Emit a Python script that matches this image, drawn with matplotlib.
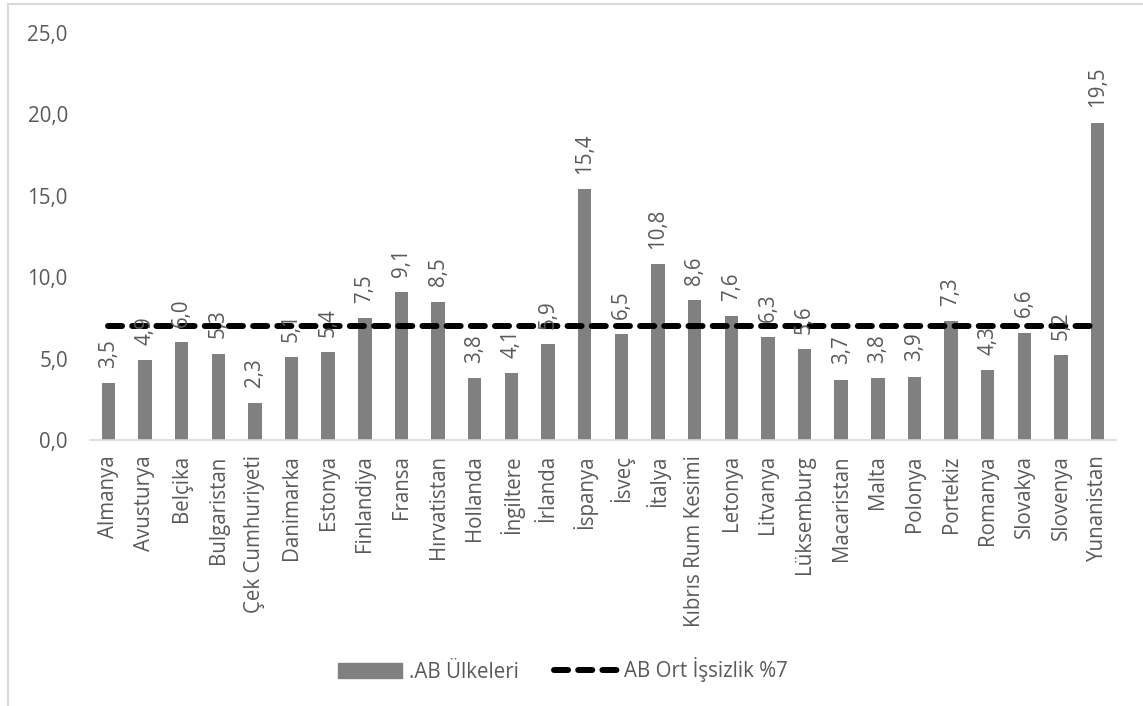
import numpy as np
import matplotlib.pyplot as plt
from matplotlib.lines import Line2D

plt.rcParams['font.family'] = ['Open Sans', 'DejaVu Sans']

ulkeler = ['Almanya', 'Avusturya', 'Belçika', 'Bulgaristan', 'Çek Cumhuriyeti',
           'Danimarka', 'Estonya', 'Finlandiya', 'Fransa', 'Hırvatistan',
           'Hollanda', 'İngiltere', 'İrlanda', 'İspanya', 'İsveç', 'İtalya',
           'Kıbrıs Rum Kesimi', 'Letonya', 'Litvanya', 'Lüksemburg', 'Macaristan',
           'Malta', 'Polonya', 'Portekiz', 'Romanya', 'Slovakya', 'Slovenya',
           'Yunanistan']
issizlik = [3.5, 4.9, 6.0, 5.3, 2.3, 5.1, 5.4, 7.5, 9.1, 8.5, 3.8, 4.1, 5.9, 15.4,
            6.5, 10.8, 8.6, 7.6, 6.3, 5.6, 3.7, 3.8, 3.9, 7.3, 4.3, 6.6, 5.2, 19.5]
ab_ort = 7.0

metin = '#595959'
fs = 14.8
kesik = (0, (2.35, 1.7))
x = np.arange(len(ulkeler))

fig = plt.figure(figsize=(11.43, 7.06), dpi=100)
ax = fig.add_axes([90 / 1143, 1 - 440 / 706, 1026 / 1143, 407 / 706])

ax.bar(x, issizlik, width=0.365, color='#808080', zorder=2)
ax.plot([x[0], x[-1]], [ab_ort, ab_ort], color='black', lw=4.3, ls=kesik,
        dash_capstyle='round', zorder=3)

# değer etiketleri (virgüllü)
for xi, v in zip(x, issizlik):
    ax.annotate(f'{v:.1f}'.replace('.', ','), (xi, v), xytext=(0, 11),
                textcoords='offset points', rotation=90, ha='center', va='bottom',
                fontsize=fs, color=metin, zorder=4)

ax.set_xlim(-0.5, len(ulkeler) - 0.5)
ax.set_ylim(0, 25)
yt = np.arange(0, 26, 5)
ax.set_yticks(yt)
ax.set_yticklabels([f'{t:.1f}'.replace('.', ',') for t in yt])
ax.set_xticks(x)
ax.set_xticklabels(ulkeler, rotation=90)
ax.tick_params(axis='both', length=0, labelsize=fs, labelcolor=metin)
ax.tick_params(axis='x', pad=11)
ax.tick_params(axis='y', pad=16)

for s in ['top', 'right', 'left']:
    ax.spines[s].set_visible(False)
ax.spines['bottom'].set_color('#d9d9d9')
ax.spines['bottom'].set_linewidth(1.2)

h = [plt.Rectangle((0, 0), 1, 1, color='#808080'),
     Line2D([0], [0], color='black', lw=4.3, ls=kesik, dash_capstyle='round')]
fig.legend(h, ['.AB Ülkeleri', 'AB Ort İşsizlik %7'], loc='center',
           bbox_to_anchor=(563 / 1143, 1 - 670 / 706), ncol=2, frameon=False,
           fontsize=fs, labelcolor=metin, handlelength=3.1, handletextpad=0.35,
           columnspacing=1.7, handleheight=0.75)

# grafik alanı çerçevesi
fig.add_artist(Line2D([8 / 1143, 8 / 1143], [0, 1 - 4 / 706], color='#d9d9d9', lw=1.5))
fig.add_artist(Line2D([8 / 1143, 1], [1 - 4 / 706, 1 - 4 / 706], color='#d9d9d9', lw=1.5))

fig.savefig('out.png', dpi=100)
